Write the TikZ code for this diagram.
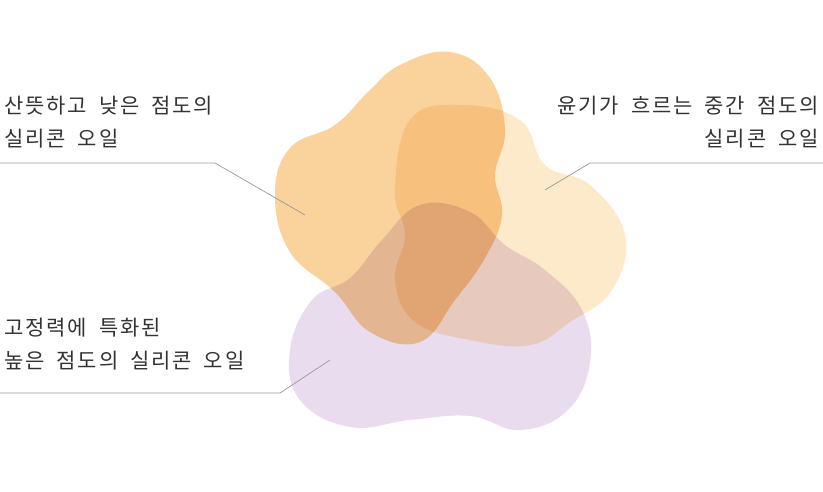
\documentclass[tikz,border=0pt]{standalone}
\usepackage{fontspec}
\setmainfont{Noto Sans CJK KR}[LetterSpace=9,WordSpace=1.8]
\definecolor{cA}{HTML}{F9D29C}
\definecolor{cB}{HTML}{FDEACB}
\definecolor{cC}{HTML}{E9DCEE}
\begin{document}
\begin{tikzpicture}[x=1pt,y=-1pt,
 blob/.style={draw=none,blend mode=multiply},
 lbl/.style={font=\fontsize{21}{33}\selectfont,text=black!80,align=left,inner sep=0},
 lead/.style={draw=gray!80,line width=0.7pt}]
\useasboundingbox (0,0) rectangle (823,491);
\begin{scope}[transparency group]
\fill[blob,fill=cA] plot[smooth cycle,tension=0.7] coordinates{(400,65)(450,52)(490,78)(505,130)(495,175)(502,215)(485,258)(455,300)(420,342)(370,332)(335,292)(290,252)(275,195)(290,148)(335,125)(368,92)};
\fill[blob,fill=cB] plot[smooth cycle,tension=0.7] coordinates{(410,120)(460,105)(520,120)(545,165)(590,185)(625,235)(612,290)(570,322)(530,345)(470,340)(415,322)(395,280)(405,235)(395,190)};
\fill[blob,fill=cC] plot[smooth cycle,tension=0.7] coordinates{(420,205)(470,212)(505,245)(545,270)(582,310)(590,362)(568,410)(520,430)(470,416)(410,420)(350,427)(300,400)(290,350)(312,300)(350,278)(382,240)};
\end{scope}
\node[lbl,anchor=west] (t1) at (4,122) {산뜻하고 낮은 점도의\\실리콘 오일};
\node[lbl,anchor=east,align=right] (t2) at (819,122) {윤기가 흐르는 중간 점도의\\실리콘 오일};
\node[lbl,anchor=west] (t3) at (4,344) {고정력에 특화된\\높은 점도의 실리콘 오일};
\coordinate (a0) at (0,163); \coordinate (a1) at (215,163); \coordinate (a2) at (305,215);
\coordinate (b0) at (823,163); \coordinate (b1) at (590,163); \coordinate (b2) at (545,190);
\coordinate (c0) at (0,393); \coordinate (c1) at (280,393); \coordinate (c2) at (330,360);
\draw[lead] (a0)--(a1)--(a2);
\draw[lead] (b0)--(b1)--(b2);
\draw[lead] (c0)--(c1)--(c2);
\end{tikzpicture}
\end{document}
